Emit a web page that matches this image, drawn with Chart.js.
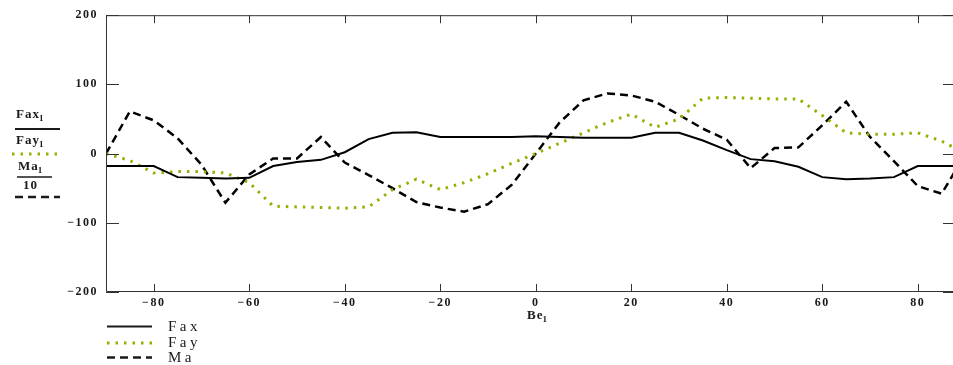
<!DOCTYPE html>
<html><head><meta charset="utf-8">
<style>
html,body{margin:0;padding:0;overflow:hidden;background:#fff;width:953px;height:365px}
#wrap{position:absolute;left:0;top:0;width:956px;height:365px}
</style>
<script src="https://cdn.jsdelivr.net/npm/chart.js@4"></script>
</head><body><div id="wrap"><canvas id="c" width="956" height="365"></canvas></div>
<script>
const angles = [-90,-85,-80,-75,-70,-65,-60,-55,-50,-45,-40,-35,-30,-25,-20,-15,-10,-5,0,5,10,15,20,25,30,35,40,45,50,55,60,65,70,75,80,85,90];
const fax = [-18,-18,-18,-34,-35,-36,-35,-18,-12,-9,2,21,30,31,24,24,24,24,25,24,23,23,23,30,30,19,5,-8,-11,-19,-34,-37,-36,-34,-18,-18,-18];
const fay = [0,-10,-28,-26,-26,-28,-42,-76,-77,-78,-79,-77,-52,-37,-52,-42,-29,-14,0,15,30,45,57,38,50,80,81,80,79,79,55,30,28,28,30,18,0];
const maOver10 = [0,61,48,22,-16,-71,-30,-7,-7,24,-13,-31,-50,-70,-78,-84,-73,-45,0,45,77,87,84,75,56,36,20,-21,8,9,41,75,24,-11,-47,-58,0];
const xTicks = [-80,-60,-40,-20,0,20,40,60,80];
const yTicks = [-200,-100,0,100,200];

const GREEN = '#8cb400';
const INK = '#1a1a1a';
const SERIF = '"Liberation Serif", "DejaVu Serif", serif';
const fmt = v => v < 0 ? '\u2212' + Math.abs(v) : String(v);
const toPts = arr => angles.map((a, i) => ({x: a, y: arr[i]}));

function subText(ctx, main, sub, x, y, size) {
  ctx.font = 'bold ' + size + 'px ' + SERIF;
  ctx.textAlign = 'left';
  ctx.textBaseline = 'middle';
  ctx.fillText(main, x, y);
  const w = ctx.measureText(main).width;
  ctx.font = 'bold ' + Math.round(size * 0.7) + 'px ' + SERIF;
  ctx.fillText(sub, x + w - 1, y + size * 0.3);
}
function seg(ctx, x1, x2, y, color, width, dash) {
  ctx.save();
  ctx.strokeStyle = color; ctx.lineWidth = width; ctx.setLineDash(dash);
  ctx.beginPath(); ctx.moveTo(x1, y); ctx.lineTo(x2, y); ctx.stroke();
  ctx.restore();
}

const spacing = {
  id: 'spacing',
  beforeDraw(chart) { chart.ctx.letterSpacing = '1.5px'; }
};

const frame = {
  id: 'frame',
  afterDraw(chart) {
    const ctx = chart.ctx, a = chart.chartArea;
    const xs = chart.scales.x, ys = chart.scales.y;
    ctx.save();
    ctx.letterSpacing = '0px';
    ctx.strokeStyle = '#333'; ctx.lineWidth = 1; ctx.setLineDash([]);
    ctx.beginPath();
    ctx.moveTo(a.left + 0.5, a.top + 0.5); ctx.lineTo(a.right - 0.5, a.top + 0.5);
    ctx.lineTo(a.right - 0.5, a.bottom - 0.5); ctx.lineTo(a.left + 0.5, a.bottom - 0.5);
    ctx.closePath(); ctx.stroke();
    ctx.beginPath();
    yTicks.forEach(v => {
      const y = Math.round(ys.getPixelForValue(v)) + 0.5;
      ctx.moveTo(a.left, y); ctx.lineTo(a.left + 13, y);
      ctx.moveTo(a.right, y); ctx.lineTo(a.right - 13, y);
    });
    xTicks.forEach(v => {
      const x = Math.round(xs.getPixelForValue(v)) + 0.5;
      ctx.moveTo(x, a.bottom); ctx.lineTo(x, a.bottom - 8);
      ctx.moveTo(x, a.top); ctx.lineTo(x, a.top + 8);
    });
    ctx.stroke();

    ctx.fillStyle = INK;
    // axis title
    ctx.letterSpacing = '1px';
    subText(ctx, 'Be', '1', 527, 316, 13);

    // left axis expressions
    subText(ctx, 'Fax', '1', 16, 115, 13);
    seg(ctx, 15, 60, 129, INK, 2, []);
    subText(ctx, 'Fay', '1', 16, 141, 13);
    seg(ctx, 12, 60, 154, GREEN, 3, [2.5, 6]);
    subText(ctx, 'Ma', '1', 18, 167, 13);
    seg(ctx, 17, 52, 177, INK, 1.5, []);
    ctx.font = 'bold 13px ' + SERIF; ctx.textAlign = 'left'; ctx.textBaseline = 'middle';
    ctx.fillText('10', 23, 186);
    seg(ctx, 15, 60, 197, INK, 2.5, [8, 5]);

    // legend
    seg(ctx, 107, 152, 326.5, INK, 2, []);
    seg(ctx, 107, 152, 343, GREEN, 3, [2.5, 6]);
    seg(ctx, 107, 152, 357.5, INK, 2.5, [8, 5]);
    ctx.letterSpacing = '3.5px';
    ctx.font = '15px ' + SERIF; ctx.textAlign = 'left'; ctx.textBaseline = 'middle';
    ctx.fillText('Fax', 168, 327);
    ctx.fillText('Fay', 168, 343);
    ctx.fillText('Ma', 168, 358);
    ctx.restore();
  }
};

new Chart(document.getElementById('c'), {
  type: 'line',
  data: {datasets: [
    {label: 'Fax', data: toPts(fax), borderColor: '#000', borderWidth: 2, pointRadius: 0, tension: 0, fill: false},
    {label: 'Fay', data: toPts(fay), borderColor: GREEN, borderWidth: 3, borderDash: [2.5, 6], pointRadius: 0, tension: 0, fill: false},
    {label: 'Ma', data: toPts(maOver10), borderColor: '#000', borderWidth: 2.5, borderDash: [8, 5], pointRadius: 0, tension: 0, fill: false}
  ]},
  options: {
    responsive: false, animation: false, devicePixelRatio: 1,
    layout: {padding: {top: 12, left: 0, right: 0, bottom: 0}},
    plugins: {legend: {display: false}, tooltip: {enabled: false}},
    scales: {
      x: {
        type: 'linear', min: -90, max: 88,
        grid: {display: false, drawTicks: false}, border: {display: false},
        afterBuildTicks: s => { s.ticks = xTicks.map(v => ({value: v})); },
        afterFit: s => { s.height = 73; },
        ticks: {padding: 4, color: INK, autoSkip: false, maxRotation: 0, includeBounds: false,
          font: {family: SERIF, size: 12, weight: 'bold'}, callback: v => fmt(v)}
      },
      y: {
        type: 'linear', min: -200, max: 200,
        grid: {display: false, drawTicks: false}, border: {display: false},
        afterBuildTicks: s => { s.ticks = yTicks.map(v => ({value: v})); },
        afterFit: s => { s.width = 106; },
        ticks: {padding: 8, color: INK, font: {family: SERIF, size: 12, weight: 'bold'}, callback: v => fmt(v)}
      }
    }
  },
  plugins: [spacing, frame]
});
</script>
</body></html>
